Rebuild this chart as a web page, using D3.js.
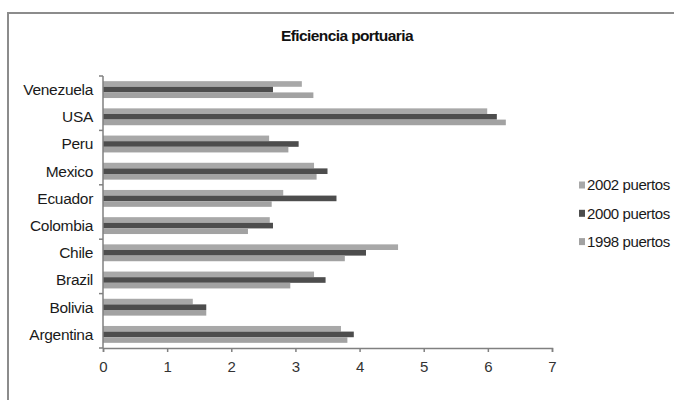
<!DOCTYPE html>
<html>
<head>
<meta charset="utf-8">
<script src="https://cdn.jsdelivr.net/npm/d3@7"></script>
<style>
  html, body { margin: 0; padding: 0; background: #fff; }
  svg { display: block; font-family: "Liberation Sans", Arial, sans-serif; }
</style>
</head>
<body>
<svg id="chart" width="674" height="401"></svg>
<script>
// Port efficiency index by country, three survey years
const countries = ["Argentina", "Bolivia", "Brazil", "Chile", "Colombia", "Ecuador", "Mexico", "Peru", "USA", "Venezuela"];
const seriesNames = ["2002 puertos", "2000 puertos", "1998 puertos"];
const values2002 = [3.71, 1.40, 3.29, 4.60, 2.60, 2.81, 3.29, 2.59, 5.99, 3.10];
const values2000 = [3.91, 1.61, 3.47, 4.10, 2.65, 3.64, 3.50, 3.05, 6.14, 2.65];
const values1998 = [3.81, 1.61, 2.92, 3.77, 2.26, 2.63, 3.33, 2.89, 6.28, 3.28];
const xTicks = [0, 1, 2, 3, 4, 5, 6, 7];
const colors = ["#a8a8a8", "#4d4d4d", "#a2a2a2"];

const seriesValues = [values2002, values2000, values1998];
const svg = d3.select("#chart");

// chart frame (only top and left edges fall inside the view)
svg.append("path")
  .attr("d", "M8,400 L8,13 L674,13")
  .attr("fill", "none").attr("stroke", "#8c8c8c").attr("stroke-width", 2);

const plot = { left: 103, right: 552, top: 76, bottom: 348 };

const x = d3.scaleLinear().domain([0, 7]).range([plot.left, plot.right]);
// Venezuela at the top, Argentina at the bottom
const y = d3.scaleBand().domain(countries.slice().reverse()).range([plot.top, plot.bottom]).paddingInner(0.38).paddingOuter(0.19);
const inner = d3.scaleBand().domain(seriesNames).range([0, y.bandwidth()]);

// bars
const groups = svg.append("g").selectAll("g")
  .data(countries)
  .join("g")
  .attr("transform", c => `translate(0,${y(c)})`);

groups.selectAll("rect")
  .data(c => seriesNames.map((s, k) => ({ s, k, v: seriesValues[k][countries.indexOf(c)] })))
  .join("rect")
  .attr("x", x(0))
  .attr("y", d => inner(d.s))
  .attr("width", d => x(d.v) - x(0))
  .attr("height", inner.bandwidth())
  .attr("fill", d => colors[d.k]);

// x axis
const xAxis = svg.append("g")
  .attr("transform", `translate(0,${plot.bottom})`)
  .call(d3.axisBottom(x).tickValues(xTicks).tickSize(4).tickPadding(9).tickFormat(d3.format("d")));
xAxis.select(".domain").attr("stroke", "#808080").attr("stroke-width", 1.5);
xAxis.selectAll(".tick line").attr("stroke", "#808080").attr("stroke-width", 1.5);
xAxis.selectAll("text").attr("font-size", 15).attr("fill", "#333").attr("font-family", "Liberation Sans, Arial, sans-serif");

// y axis line with ticks every second category boundary
svg.append("line")
  .attr("x1", plot.left).attr("x2", plot.left)
  .attr("y1", plot.top).attr("y2", plot.bottom)
  .attr("stroke", "#808080").attr("stroke-width", 1.5);
const step = (plot.bottom - plot.top) / countries.length;
svg.append("g").selectAll("line")
  .data(d3.range(0, countries.length + 1, 2))
  .join("line")
  .attr("x1", plot.left - 4).attr("x2", plot.left)
  .attr("y1", i => plot.top + i * step).attr("y2", i => plot.top + i * step)
  .attr("stroke", "#808080").attr("stroke-width", 1.5);

// category labels
svg.append("g").selectAll("text")
  .data(countries)
  .join("text")
  .attr("x", 93)
  .attr("y", c => plot.top + (countries.length - 1 - countries.indexOf(c) + 0.5) * step)
  .attr("dy", "0.35em")
  .attr("text-anchor", "end")
  .attr("font-size", 15.5)
  .attr("letter-spacing", -0.3)
  .attr("fill", "#1a1a1a")
  .text(c => c);

// title
svg.append("text")
  .attr("x", 347).attr("y", 41)
  .attr("text-anchor", "middle")
  .attr("font-size", 15.5)
  .attr("font-weight", "bold")
  .attr("letter-spacing", -0.6)
  .attr("fill", "#111")
  .text("Eficiencia portuaria");

// legend
const legend = svg.append("g").selectAll("g")
  .data(seriesNames)
  .join("g")
  .attr("transform", (s, i) => `translate(579,${185 + i * 28.3})`);
legend.append("rect")
  .attr("x", 0).attr("y", -3.5).attr("width", 6).attr("height", 7)
  .attr("fill", (s, i) => colors[i]);
legend.append("text")
  .attr("x", 8).attr("y", 0).attr("dy", "0.35em")
  .attr("font-size", 15)
  .attr("letter-spacing", -0.4)
  .attr("fill", "#1a1a1a")
  .text(s => s);
</script>
</body>
</html>
